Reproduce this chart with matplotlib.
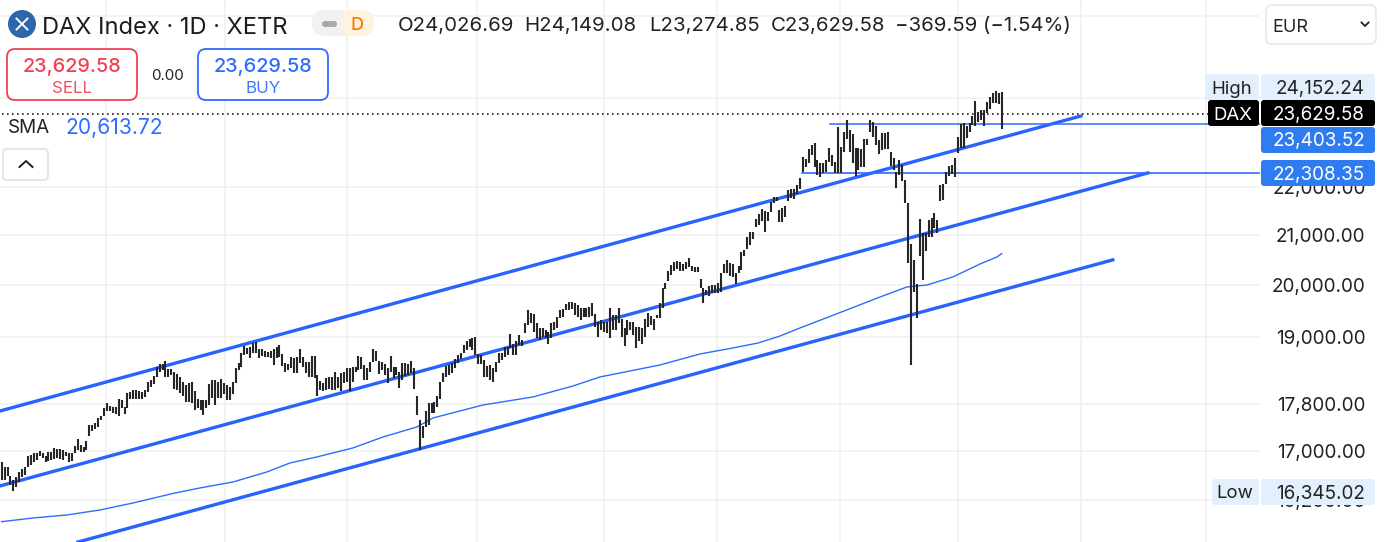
import numpy as np
import matplotlib
matplotlib.use("Agg")
import matplotlib.pyplot as plt
from matplotlib.patches import FancyBboxPatch, Circle, Rectangle

plt.rcParams["font.family"] = ["Inter", "DejaVu Sans"]

# --------------------------------------------------
# Data (daily high / low per bar)
# --------------------------------------------------
highs = [
    16820, 16740, 16730, 16590, 16530, 16580, 16660, 16700, 16740, 16910,
    16940, 16960, 16960, 17000, 16970, 16920, 16990, 16990, 17050, 17030,
    17030, 17020, 16990, 16960, 16960, 17080, 17200, 17100, 17070, 17160,
    17440, 17440, 17470, 17550, 17590, 17730, 17810, 17770, 17750, 17750,
    17880, 17870, 17740, 17990, 18000, 18050, 18040, 18020, 18000, 18040,
    18190, 18220, 18290, 18460, 18510, 18510, 18570, 18410, 18410, 18370,
    18330, 18280, 18190, 18130, 18170, 18190, 18020, 17880, 17860, 17870,
    17870, 18150, 18220, 18220, 18190, 18230, 18170, 18130, 18100, 18190,
    18430, 18530, 18700, 18840, 18790, 18820, 18890, 18900, 18780, 18780,
    18750, 18730, 18750, 18780, 18820, 18860, 18690, 18530, 18510, 18640,
    18610, 18630, 18780, 18640, 18550, 18550, 18650, 18650, 18310, 18210,
    18160, 18250, 18270, 18280, 18370, 18280, 18350, 18370, 18430, 18430,
    18460, 18450, 18650, 18640, 18490, 18430, 18550, 18780, 18750, 18570,
    18550, 18510, 18430, 18650, 18460, 18460, 18370, 18530, 18530, 18510,
    18570, 18430, 17930, 17520, 17420, 17670, 17810, 17820, 17840, 17930,
    18190, 18340, 18470, 18490, 18530, 18590,
    18670, 18710, 18860, 18930, 18960, 18980, 19000, 18690, 18670, 18580,
    18470, 18490, 18430, 18550, 18700, 18700, 18810, 18810, 19060, 18880,
    18920, 19040, 18950, 19260, 19500, 19460, 19430, 19260, 19160, 19160,
    19130, 19100, 19270, 19290, 19380, 19510, 19520, 19630, 19670, 19670,
    19650, 19610, 19540, 19540, 19540, 19570, 19650, 19430, 19290, 19320,
    19290, 19290, 19550, 19410, 19410, 19540, 19330, 19160, 19320, 19290,
    19290, 19190, 19180, 19160, 19330, 19460, 19400, 19330, 19410, 19640,
    19930, 20040, 20260, 20390, 20440, 20460, 20440, 20410, 20440, 20520,
    20370, 20340, 20340, 20100, 19930, 19900, 19970, 20000, 20000, 20030,
    20230, 20410, 20480, 20420, 20410, 20230, 20360, 20650, 20690, 20950,
    21060, 21060, 21320, 21430, 21530, 21480, 21460, 21670, 21780, 21790,
    21510, 21550, 21600, 21940, 21950, 21950, 22040, 22200,
    22650, 22600, 22830, 22920, 22960, 22590, 22510, 22530, 22590, 22850,
    22700, 22550, 23320, 22880, 23220, 23490, 23260, 23170, 22850, 22850,
    22820, 23050, 23050, 23490, 23430, 23340, 23030, 23180, 23180, 23220,
    22770, 22630, 22330, 22590, 22480, 22150, 21650, 20810, 20490, 20020,
    21320, 21030, 21040, 21300, 21340, 21440, 21300, 22040, 22060, 22330,
    22460, 22480, 22630, 23110, 23400, 23410, 23340, 23410, 23570, 23930,
    23680, 23720, 23720, 23910, 24030, 24110, 24152, 24110, 24149,
]
lows = [
    16530, 16530, 16590, 16450, 16345, 16410, 16500, 16580, 16610, 16740,
    16770, 16820, 16850, 16910, 16880, 16820, 16840, 16850, 16860, 16880,
    16860, 16850, 16910, 16810, 16840, 16960, 17020, 16990, 16990, 17010,
    17250, 17330, 17370, 17400, 17520, 17590, 17670, 17670, 17650, 17630,
    17590, 17730, 17630, 17730, 17880, 17880, 17880, 17880, 17880, 17920,
    18000, 18100, 18150, 18270, 18370, 18400, 18270, 18270, 18310, 18060,
    18050, 17990, 17930, 17840, 17840, 17810, 17690, 17730, 17700, 17610,
    17730, 17780, 17900, 17780, 17900, 17900, 17980, 17860, 17860, 17980,
    18160, 18400, 18450, 18670, 18690, 18610, 18710, 18710, 18610, 18650,
    18640, 18630, 18610, 18490, 18610, 18630, 18470, 18370, 18400, 18430,
    18340, 18350, 18530, 18460, 18340, 18270, 18270, 18250, 17930, 18050,
    18020, 18050, 18060, 18050, 18050, 18080, 18020, 18170, 18190, 18020,
    18190, 18370, 18400, 18410, 18220, 18220, 18370, 18550, 18570, 18330,
    18400, 18310, 18160, 18370, 18250, 18310, 18080, 18220, 18290, 18310,
    18340, 18060, 17610, 17020, 17210, 17400, 17440, 17640, 17650, 17750,
    17880, 18190, 18280, 18310, 18340, 18430,
    18530, 18590, 18700, 18760, 18810, 18760, 18670, 18510, 18510, 18270,
    18280, 18220, 18190, 18370, 18520, 18580, 18640, 18670, 18790, 18670,
    18670, 18860, 18830, 19070, 19230, 19260, 19100, 18980, 18950, 19010,
    18980, 18880, 18980, 19130, 19160, 19350, 19380, 19510, 19500, 19520,
    19410, 19370, 19320, 19370, 19370, 19370, 19400, 19190, 19000, 19130,
    19100, 19070, 18980, 19130, 19140, 19260, 19010, 18830, 19040, 19130,
    19040, 18790, 18920, 18880, 19010, 19190, 19230, 19130, 19350, 19350,
    19540, 19910, 20060, 20190, 20260, 20300, 20260, 20260, 20300, 20350,
    20260, 20240, 20240, 19930, 19640, 19800, 19780, 19830, 19840, 19830,
    19860, 20230, 20230, 20170, 20150, 20020, 20230, 20280, 20570, 20700,
    20790, 20900, 21150, 21200, 21290, 21060, 21290, 21460, 21650, 21690,
    21250, 21270, 21360, 21710, 21760, 21740, 21860, 21950,
    22330, 22430, 22510, 22700, 22430, 22260, 22210, 22300, 22330, 22550,
    22460, 22310, 22310, 22310, 22770, 23050, 22770, 22510, 22240, 22370,
    22430, 22430, 22920, 23220, 23100, 22920, 22720, 22810, 22820, 22820,
    22460, 22370, 21970, 22260, 22130, 21650, 20430, 18480, 19860, 19360,
    20570, 20090, 20670, 20950, 20950, 21130, 21030, 21710, 21720, 22060,
    22240, 22290, 22220, 22750, 22850, 22850, 23070, 23220, 23370, 23350,
    23450, 23490, 23340, 23640, 23740, 23870, 23890, 23860, 23275,
]

# SMA read at a few bars
sma_bars = [0, 10.7, 22.3, 33.6, 44.9, 59.3, 67.8, 79.1, 90.7, 98.6, 107.8, 120.1,
            130.4, 142, 147.5, 164.6, 181.7, 195.4, 204.6, 225.1, 238.8, 250.1,
            258.7, 266.2, 273, 277.5, 289, 300.4, 309.6, 316.5, 325.3, 334.6, 340.4, 342]
sma_vals = [15866, 15923, 15970, 16048, 16158, 16317, 16397, 16493, 16655, 16802, 16901, 17050,
            17234, 17403, 17557, 17781, 17921, 18114, 18274, 18489, 18689, 18799,
            18891, 19020, 19170, 19264, 19510, 19759, 19953, 19992, 20149, 20406, 20546, 20614]

# Trend channel, (bar, price) at both ends
upper_bars, upper_vals = [-0.6, 369.1], [17677, 23579]
middle_bars, middle_vals = [-0.6, 392.0], [16429, 22303]
lower_bars, lower_vals = [26.1, 380.0], [15554, 20488]

level_high = 23403.52
level_high_from = 283.3
level_low = 22308.35
level_low_from = 273.7
last_price = 23629.58

price_ticks = [16200, 17000, 17800, 19000, 20000, 21000, 22000, 24000, 26000]
grid_bars = [35.7, 76.4, 118, 162.6, 206, 244.6, 286.7, 327, 369, 412]

W, H = 1386, 542
BLUE = "#2962ff"
GRID = "#f1f1f3"

fig = plt.figure(figsize=(W / 100, H / 100), dpi=100)

# --------------------------------------------------
# Price pane, log scale, runs up to the price column
# --------------------------------------------------
ax = fig.add_axes([0, 0, 1260 / W, 1])
ax.set_yscale("log")
ax.set_ylim(15554, 26407)
ax.set_xlim(-0.58, (1260 - 1.7) / 2.924)

for s in ax.spines.values():
    s.set_visible(False)

ax.set_xticks([])
ax.minorticks_off()
ax.set_yticks(price_ticks)
ax.set_yticklabels([f"{p:,.2f}" for p in price_ticks], fontsize=13.6, color="#222222", ha="right")
ax.yaxis.tick_right()
ax.tick_params(axis="y", which="both", length=0, pad=76)
ax.yaxis.set_minor_formatter(matplotlib.ticker.NullFormatter())

for p in price_ticks:
    ax.axhline(p, color=GRID, lw=1.2, zorder=0)
for b in grid_bars:
    ax.axvline(b, color=GRID, lw=1.2, zorder=0)

# channel
ax.plot(upper_bars, upper_vals, color=BLUE, lw=2.4, zorder=2)
ax.plot(middle_bars, middle_vals, color=BLUE, lw=2.4, zorder=2)
ax.plot(lower_bars, lower_vals, color=BLUE, lw=2.4, zorder=2)

# SMA
ax.plot(sma_bars, sma_vals, color="#2f6bff", lw=1.0, zorder=2)

# horizontal levels
ax.plot([level_high_from, 431], [level_high, level_high], color="#2f6bff", lw=1.1, zorder=2)
ax.plot([level_low_from, 431], [level_low, level_low], color="#2f6bff", lw=1.2, zorder=2)
ax.plot([0, 412.5], [last_price, last_price], color="#222222", lw=1.2, ls=(0, (1, 2)), zorder=2)

# bars
ax.vlines(np.arange(len(highs)), lows, highs, color="#262626", lw=1.5, zorder=3)

# --------------------------------------------------
# Toolbar and tags, in pixel coords on top of the pane
# --------------------------------------------------
ui = fig.add_axes([0, 0, 1, 1])
ui.set_xlim(0, W)
ui.set_ylim(H, 0)
ui.axis("off")
ui.patch.set_alpha(0)


def box(x0, y0, x1, y1, face="white", edge="none", lw=1.2, r=3):
    ui.add_patch(FancyBboxPatch((x0 + r, y0 + r), x1 - x0 - 2 * r, y1 - y0 - 2 * r,
                                boxstyle=f"round,pad={r},rounding_size={r}",
                                fc=face, ec=edge, lw=lw))


def label(x, y, s, size=13.6, color="#222222", ha="left", weight="normal"):
    ui.text(x, y, s, fontsize=size, color=color, ha=ha, va="center_baseline", fontweight=weight)


# header
ui.add_patch(Circle((22, 24), 14, fc="#2d66ab", ec="none"))
ui.plot([16.5, 27.5], [18.5, 29.5], color="white", lw=1.4)
ui.plot([16.5, 27.5], [29.5, 18.5], color="white", lw=1.4)
label(42, 25, "DAX Index · 1D · XETR", size=17, color="#1c1c1c")

box(312, 10, 374, 36, face="#f1f1f1", r=13)
ui.add_patch(Rectangle((344, 10), 17, 26, fc="#fff3e0", ec="none"))
box(348, 10, 374, 36, face="#fff3e0", r=13)
box(322, 21, 337, 27, face="#a9a9a9", r=3)
label(357, 24, "D", size=13, color="#f57c00", ha="center", weight="medium")

label(398, 24, "O24,026.69", size=14.7)
label(524, 24, "H24,149.08", size=14.7)
label(649, 24, "L23,274.85", size=14.7)
label(771, 24, "C23,629.58", size=14.7)
label(895, 24, "−369.59 (−1.54%)", size=14.7)

# sell / buy
box(7, 49, 137, 100, edge="#f23f55", lw=1.3, r=8)
label(72, 65, "23,629.58", size=14.3, color="#f23f55", ha="center", weight="medium")
label(72, 87, "SELL", size=12.2, color="#f2505f", ha="center")
label(167, 74, "0.00", size=10.9, ha="center")
box(198, 49, 328, 100, edge="#2f6bff", lw=1.3, r=8)
label(263, 65, "23,629.58", size=14.3, color="#2f6bff", ha="center", weight="medium")
label(263, 87, "BUY", size=12.2, color="#3f78ff", ha="center")

label(8, 126, "SMA", size=13.6)
label(65, 126, "20,613.72", size=15.2, color="#2f6bff")

# collapse button
box(3, 149, 48, 180, edge="#e2e2e2", lw=1.2, r=4)
ui.plot([19.5, 26, 32.5], [167, 161, 167], color="#222222", lw=1.4)

# currency box
box(1266, 5, 1376, 44, edge="#e8e8e8", lw=1.2, r=6)
label(1272, 25, "EUR", size=13)
ui.plot([1361.5, 1365, 1368.5], [22.5, 26, 22.5], color="#222222", lw=1.3)

# price tags
TAG_LIGHT = "#e3effd"
TAG_BLUE = "#2f7bf0"
box(1205, 74, 1259, 100, face=TAG_LIGHT)
label(1232, 87, "High", size=13.4, ha="center")
box(1261, 74, 1375, 100, face=TAG_LIGHT)
label(1365, 87, "24,152.24", ha="right")

box(1208, 100, 1259, 126, face="black")
label(1233, 113, "DAX", size=13.4, color="white", ha="center")
box(1261, 100, 1375, 126, face="black")
label(1365, 113, "23,629.58", color="white", ha="right")

box(1261, 127, 1375, 153, face=TAG_BLUE)
label(1365, 139, "23,403.52", color="white", ha="right")
box(1261, 160, 1375, 186, face=TAG_BLUE)
label(1365, 173, "22,308.35", color="white", ha="right")

box(1212, 479, 1259, 505, face=TAG_LIGHT)
label(1235, 492, "Low", size=13.4, ha="center")
box(1261, 479, 1375, 505, face=TAG_LIGHT)
label(1365, 492, "16,345.02", ha="right")

fig.savefig("out.png", dpi=100)
